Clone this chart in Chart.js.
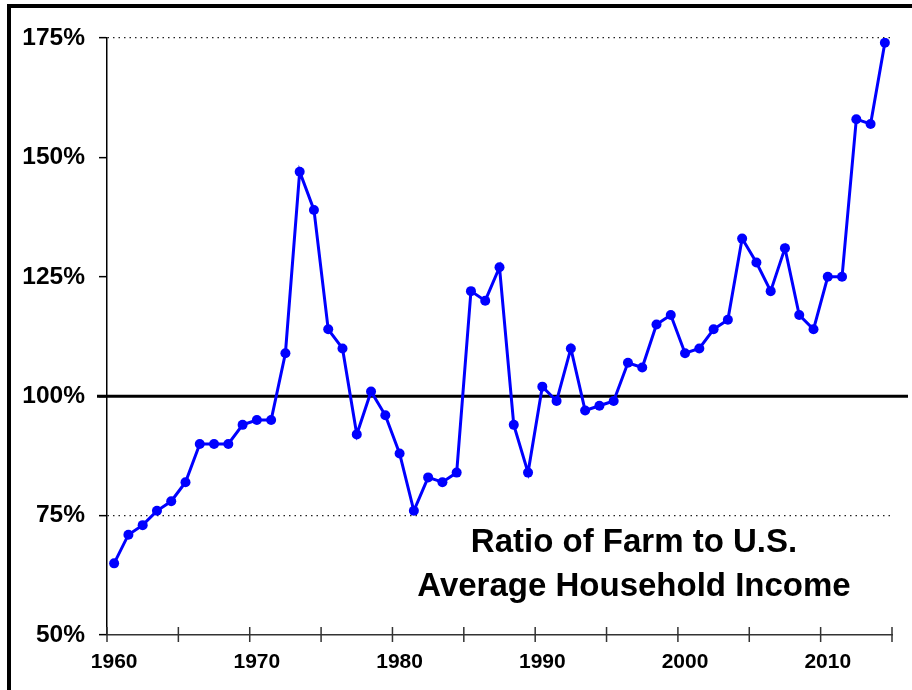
<!DOCTYPE html>
<html>
<head>
<meta charset="utf-8">
<script src="https://cdn.jsdelivr.net/npm/chart.js@4/dist/chart.umd.min.js"></script>
<style>
  html, body { margin: 0; padding: 0; background: #fff; }
  #wrap { position: relative; width: 912px; height: 690px; overflow: hidden; }
  #frame { position: absolute; left: 7px; top: 4px; width: 1000px; height: 800px;
    border-left: 4px solid #000; border-top: 4px solid #000; pointer-events: none; }
  #label { position: absolute; left: 384px; top: 519px; width: 500px; text-align: center;
    font: bold 33px "Liberation Sans", Arial, sans-serif; line-height: 44px; color: #000; }
</style>
</head>
<body>
<div id="wrap">
  <canvas id="chart" width="912" height="690"></canvas>
  <div id="frame"></div>
  <div id="label">Ratio of Farm to U.S.<br>Average Household Income</div>
</div>
<script>
const years = ['1960','1961','1962','1963','1964','1965','1966','1967','1968','1969',
  '1970','1971','1972','1973','1974','1975','1976','1977','1978','1979',
  '1980','1981','1982','1983','1984','1985','1986','1987','1988','1989',
  '1990','1991','1992','1993','1994','1995','1996','1997','1998','1999',
  '2000','2001','2002','2003','2004','2005','2006','2007','2008','2009',
  '2010','2011','2012','2013','2014'];

// farm household income as % of US average household income
const ratio = [65, 71, 73, 76, 78, 82, 90, 90, 90, 94,
  95, 95, 109, 147, 139, 114, 110, 92, 101, 96,
  88, 76, 83, 82, 84, 122, 120, 127, 94, 84,
  102, 99, 110, 97, 98, 99, 107, 106, 115, 117,
  109, 110, 114, 116, 133, 128, 122, 131, 117, 114,
  125, 125, 158, 157, 174];

const yTicks = [50, 75, 100, 125, 150, 175];
const dottedAt = [75, 175];
const refValue = 100;

const font = '"Liberation Sans", Arial, sans-serif';

// thick reference line at 100%, a bit wider than the plot area
const refLine = {
  id: 'refLine',
  beforeDatasetsDraw(chart) {
    const { ctx, chartArea, scales } = chart;
    const y = scales.y.getPixelForValue(refValue);
    ctx.save();
    ctx.strokeStyle = '#000';
    ctx.lineWidth = 3;
    ctx.beginPath();
    ctx.moveTo(chartArea.left - 10, y);
    ctx.lineTo(chartArea.right + 16, y);
    ctx.stroke();
    ctx.restore();
  }
};

// x tick marks every 5 years, crossing the axis
const xMarks = {
  id: 'xMarks',
  afterDraw(chart) {
    const { ctx, chartArea, scales } = chart;
    const x = scales.x;
    const half = (x.getPixelForTick(1) - x.getPixelForTick(0)) / 2;
    const n = years.length;
    ctx.save();
    ctx.strokeStyle = '#333';
    ctx.lineWidth = 1.5;
    ctx.beginPath();
    for (let i = 0; i <= n; i += 5) {
      const px = i < n ? x.getPixelForTick(i) - half : x.getPixelForTick(n - 1) + half;
      ctx.moveTo(px, chartArea.bottom - 8);
      ctx.lineTo(px, chartArea.bottom + 7);
    }
    ctx.stroke();
    ctx.restore();
  }
};

new Chart(document.getElementById('chart'), {
  type: 'line',
  data: {
    labels: years,
    datasets: [{
      data: ratio,
      borderColor: '#0000ff',
      backgroundColor: '#0000ff',
      borderWidth: 3,
      pointRadius: 5,
      pointBorderWidth: 0,
      tension: 0
    }]
  },
  options: {
    responsive: false,
    animation: false,
    events: [],
    layout: { padding: { top: 38, right: 20, left: 0, bottom: 0 } },
    plugins: { legend: { display: false }, tooltip: { enabled: false } },
    scales: {
      x: {
        type: 'category',
        offset: true,
        afterFit(scale) { scale.height = 55; },
        grid: { display: false, drawTicks: false },
        border: { display: true, color: '#333', width: 1.5 },
        ticks: {
          autoSkip: false,
          maxRotation: 0,
          padding: 15,
          color: '#000',
          font: { family: font, size: 21, weight: 'bold' },
          callback(val, i) { return Number(years[i]) % 10 === 0 ? years[i] : ''; }
        }
      },
      y: {
        min: 50,
        max: 175,
        afterFit(scale) { scale.width = 107; },
        afterBuildTicks(scale) { scale.ticks = yTicks.map(v => ({ value: v })); },
        grid: {
          drawTicks: true,
          tickLength: 8,
          tickColor: '#000',
          tickWidth: 1.5,
          lineWidth: 1.3,
          color(ctx) {
            return ctx.tick && dottedAt.includes(ctx.tick.value) ? '#222' : 'rgba(0,0,0,0)';
          }
        },
        border: {
          display: true,
          color: '#000',
          width: 1.5,
          dash(ctx) { return ctx.tick && dottedAt.includes(ctx.tick.value) ? [1.5, 4] : []; }
        },
        ticks: {
          padding: 14,
          color: '#000',
          font: { family: font, size: 24.5, weight: 'bold' },
          callback(v) { return v + '%'; }
        }
      }
    }
  },
  plugins: [refLine, xMarks]
});
</script>
</body>
</html>
